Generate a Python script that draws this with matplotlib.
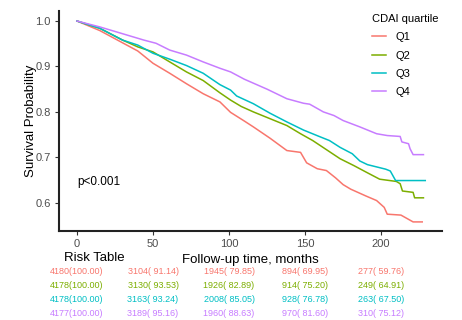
"""Kaplan-Meier curves by CDAI quartile with a risk table underneath."""
import matplotlib

matplotlib.use("Agg")
import matplotlib.pyplot as plt
from matplotlib.transforms import blended_transform_factory

plt.rcParams["font.family"] = ["Liberation Sans", "DejaVu Sans"]

groups = ["Q1", "Q2", "Q3", "Q4"]
colors = ["#F8766D", "#7CAE00", "#00BFC4", "#C77CFF"]

q1_t = [0, 15, 30, 40, 50, 61, 72, 83, 94, 101, 110, 116, 127, 138, 147, 151, 158,
        164, 170, 175, 180, 190, 197, 202, 204, 213, 221, 227]
q1_s = [1.0, 0.979, 0.952, 0.934, 0.907, 0.885, 0.862, 0.840, 0.822, 0.799, 0.780,
        0.767, 0.742, 0.715, 0.711, 0.688, 0.675, 0.671, 0.655, 0.640, 0.630, 0.615,
        0.605, 0.590, 0.575, 0.573, 0.558, 0.558]

q2_t = [0, 15, 30, 40, 50, 61, 72, 83, 94, 101, 108, 116, 127, 138, 147, 155, 164,
        173, 182, 191, 199, 210, 212.5, 214, 221, 222, 227.8]
q2_s = [1.0, 0.984, 0.958, 0.943, 0.932, 0.910, 0.888, 0.869, 0.842, 0.826, 0.812,
        0.800, 0.785, 0.770, 0.752, 0.737, 0.717, 0.697, 0.682, 0.666, 0.652, 0.647,
        0.642, 0.626, 0.623, 0.611, 0.611]

q3_t = [0, 15, 30, 40, 50, 61, 72, 83, 94, 101, 105, 116, 127, 138, 149, 160, 166,
        173, 181, 186, 191, 203, 206, 209.5, 229]
q3_s = [1.0, 0.984, 0.958, 0.947, 0.929, 0.916, 0.902, 0.885, 0.860, 0.848, 0.835,
        0.818, 0.797, 0.778, 0.760, 0.745, 0.737, 0.722, 0.708, 0.692, 0.684, 0.674,
        0.670, 0.649, 0.649]

q4_t = [0, 15, 33, 44, 52, 61, 72, 83, 94, 101, 110, 125, 138, 149, 153, 162, 169,
        175, 186, 197, 204, 212.5, 213.6, 218, 219, 221, 227.8]
q4_s = [1.0, 0.987, 0.969, 0.958, 0.951, 0.936, 0.925, 0.910, 0.896, 0.888, 0.872,
        0.850, 0.829, 0.819, 0.817, 0.800, 0.792, 0.781, 0.767, 0.752, 0.748, 0.746,
        0.734, 0.730, 0.719, 0.706, 0.706]

# risk table: number at risk and percentage
risk_times = [0, 50, 100, 150, 200]
risk_n = [
    [4180, 3104, 1945, 894, 277],
    [4178, 3130, 1926, 914, 249],
    [4178, 3163, 2008, 928, 263],
    [4177, 3189, 1960, 970, 310],
]
risk_pct = [
    [100.00, 91.14, 79.85, 69.95, 59.76],
    [100.00, 93.53, 82.89, 75.20, 64.91],
    [100.00, 93.24, 85.05, 76.78, 67.50],
    [100.00, 95.16, 88.63, 81.60, 75.12],
]

curves_t = [q1_t, q2_t, q3_t, q4_t]
curves_s = [q1_s, q2_s, q3_s, q4_s]

fig = plt.figure(figsize=(4.62, 3.2), dpi=100)
ax = fig.add_axes([59 / 462, 1 - 231 / 320, 383 / 462, 220 / 320])

for t, s, g, c in zip(curves_t, curves_s, groups, colors):
    ax.plot(t, s, color=c, lw=1.1, label=g)

ax.set_xlim(-11.8, 240)
ax.set_ylim(0.538, 1.022)
ax.set_xticks(risk_times)
ax.set_yticks([0.6, 0.7, 0.8, 0.9, 1.0])
ax.set_yticklabels(["0.6", "0.7", "0.8", "0.9", "1.0"])
for side in ("top", "right"):
    ax.spines[side].set_visible(False)
for side in ("left", "bottom"):
    ax.spines[side].set_linewidth(1.5)
    ax.spines[side].set_color("#222222")
ax.tick_params(length=3, width=0.8, color="#333333", labelcolor="#4D4D4D",
               labelsize=8, pad=3)

ax.set_ylabel("Survival Probability", fontsize=9.5, labelpad=-1)
ax.set_xlabel("Follow-up time, months", fontsize=9.5, labelpad=3)
ax.text(0, 0.645, "p<0.001", fontsize=8.5, ha="left", va="center")

leg = ax.legend(title="CDAI quartile", loc="upper left",
                bbox_to_anchor=(362 / 462, 1 - 4 / 320),
                bbox_transform=fig.transFigure, frameon=False, fontsize=8,
                title_fontsize=8, handlelength=1.3, handletextpad=0.8,
                labelspacing=0.75, alignment="left")

# risk table
fig.text(64 / 462, 1 - 258 / 320, "Risk Table", fontsize=9.5, ha="left", va="center")
trans = blended_transform_factory(ax.transData, fig.transFigure)
row_y = [271.7, 286, 299.5, 313.3]
for i, c in enumerate(colors):
    for j, t in enumerate(risk_times):
        ax.text(t, 1 - row_y[i] / 320, f"{risk_n[i][j]}({risk_pct[i][j]:6.2f})",
                transform=trans, ha="center", va="center", fontsize=6.5,
                color=c, clip_on=False)

fig.savefig("out.png", dpi=100)
